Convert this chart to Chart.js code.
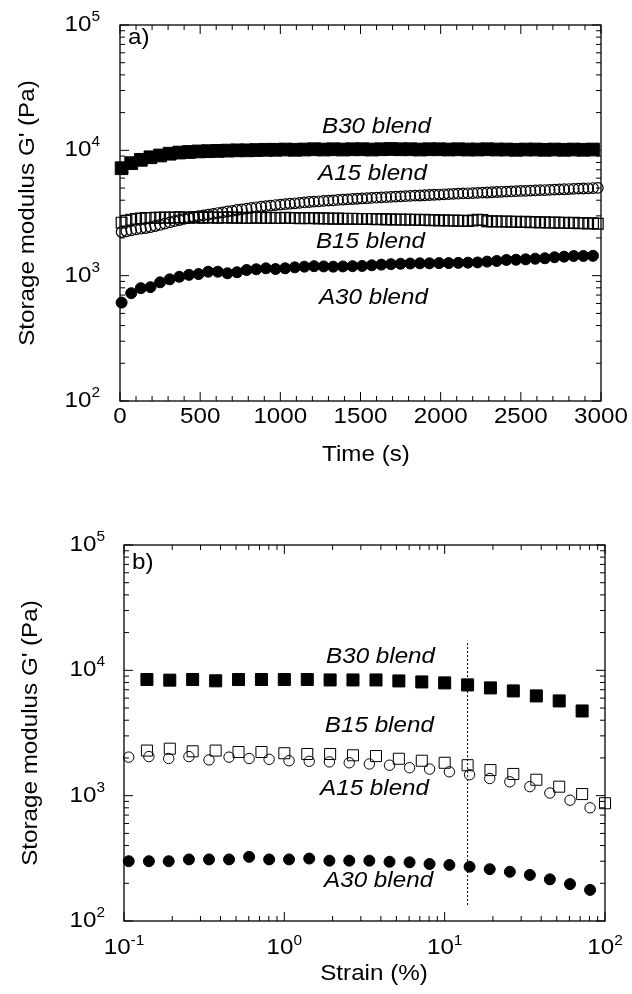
<!DOCTYPE html>
<html><head><meta charset="utf-8">
<script src="https://cdn.jsdelivr.net/npm/chart.js@4/dist/chart.umd.min.js"></script>
<style>
html,body{margin:0;padding:0;background:#fff;}
#wrap{position:relative;width:632px;height:994px;background:#fff;}
canvas{position:absolute;left:0;}
</style></head><body>
<div id="wrap">
<canvas id="ca" width="632" height="497" style="top:0px"></canvas>
<canvas id="cb" width="632" height="497" style="top:497px"></canvas>
</div>
<script>
// ---------------- Panel a) : G' vs time ----------------
const timeCoarse = [10,70,130,190,250,310,370,430,490,550,610,670,730,790,850,910,970,1030,1090,1150,1210,1270,1330,1390,1450,1510,1570,1630,1690,1750,1810,1870,1930,1990,2050,2110,2170,2230,2290,2350,2410,2470,2530,2590,2650,2710,2770,2830,2890,2950];
const timeFine = [10,40,70,100,130,160,190,220,250,280,310,340,370,400,430,460,490,520,550,580,610,640,670,700,730,760,790,820,850,880,910,940,970,1000,1030,1060,1090,1120,1150,1180,1210,1240,1270,1300,1330,1360,1390,1420,1450,1480,1510,1540,1570,1600,1630,1660,1690,1720,1750,1780,1810,1840,1870,1900,1930,1960,1990,2020,2050,2080,2110,2140,2170,2200,2230,2260,2290,2320,2350,2380,2410,2440,2470,2500,2530,2560,2590,2620,2650,2680,2710,2740,2770,2800,2830,2860,2890,2920,2950,2980];

const timeB30 = [7200,7900,8400,8800,9100,9400,9600,9700,9800,9850,9900,9950,10000,10000,10050,10100,10100,10150,10100,10150,10200,10150,10200,10150,10200,10200,10150,10200,10250,10200,10200,10150,10200,10200,10150,10200,10150,10150,10200,10150,10150,10100,10150,10150,10100,10150,10100,10150,10100,10150];
const timeA30 = [610,725,795,810,885,935,980,1015,1030,1075,1075,1045,1065,1110,1125,1145,1130,1145,1165,1180,1190,1185,1180,1185,1190,1195,1210,1225,1235,1245,1250,1255,1255,1260,1260,1265,1270,1275,1295,1310,1335,1340,1350,1365,1377,1403,1418,1436,1436,1440];
const timeA15 = [2230,2260,2300,2340,2370,2400,2440,2490,2540,2600,2660,2720,2780,2840,2890,2940,2990,3030,3070,3110,3160,3200,3250,3290,3340,3380,3430,3470,3510,3550,3590,3620,3660,3690,3720,3750,3780,3810,3840,3870,3900,3920,3950,3970,3990,4020,4040,4060,4090,4110,4130,4150,4170,4190,4210,4230,4250,4270,4290,4310,4330,4350,4360,4380,4400,4420,4440,4460,4470,4490,4510,4530,4540,4560,4580,4600,4610,4630,4650,4670,4680,4700,4720,4740,4750,4770,4790,4810,4820,4840,4860,4880,4890,4910,4930,4950,4960,4980,5000,5020];
const timeB15 = [2650,2740,2800,2840,2860,2880,2890,2900,2900,2910,2900,2910,2920,2910,2900,2920,2910,2900,2920,2910,2900,2910,2920,2900,2910,2900,2890,2900,2910,2900,2890,2900,2890,2880,2900,2890,2880,2870,2880,2870,2880,2860,2870,2860,2850,2860,2850,2840,2850,2840,2830,2840,2830,2820,2830,2810,2820,2800,2810,2800,2790,2800,2780,2790,2770,2780,2760,2770,2750,2760,2740,2750,2730,2760,2800,2780,2720,2710,2720,2700,2710,2690,2700,2680,2690,2670,2680,2660,2670,2650,2660,2640,2650,2630,2640,2620,2630,2610,2620,2600];

const timeTicks = [0,500,1000,1500,2000,2500,3000];
const timeTickLabels = ['0','500','1000','1500','2000','2500','3000'];

// ---------------- Panel b) : G' vs strain ----------------
const strainB30 = [0.139,0.193,0.268,0.373,0.518,0.72,1.0,1.39,1.93,2.68,3.73,5.18,7.2,10.0,13.9,19.3,26.8,37.3,51.8,72.0];
const strainB15 = [0.139,0.193,0.268,0.373,0.518,0.72,1.0,1.39,1.93,2.68,3.73,5.18,7.2,10.0,13.9,19.3,26.8,37.3,51.8,72.0,100];
const strainA = [0.107,0.143,0.19,0.254,0.339,0.452,0.603,0.804,1.07,1.43,1.91,2.54,3.39,4.53,6.04,8.05,10.7,14.3,19.1,25.5,34.0,45.3,60.5,80.7];

const strainValB30 = [8450,8350,8450,8250,8450,8450,8450,8450,8380,8380,8380,8230,8080,7940,7650,7240,6850,6250,5700,4740];
const strainValB15 = [2290,2370,2260,2290,2230,2230,2180,2150,2150,2100,2070,1970,1900,1830,1750,1600,1490,1340,1180,1030,870];
const strainValA15 = [2030,2050,1980,2050,1930,2030,1980,1950,1900,1880,1860,1830,1790,1750,1670,1630,1550,1470,1370,1290,1180,1050,920,800];
const strainValA30 = [300,300,300,310,310,310,325,310,310,315,303,303,303,297,294,285,280,271,259,247,233,215,197,177];

const critStrainX = [13.9, 13.9];
const critStrainY = [134, 17200];

const strainTicks = [0.1,1,10,100];
const strainTickExp = ['-1','0','1','2'];

// shared y axis
const modTicks = [100,1000,10000,100000];
const modTickExp = ['2','3','4','5'];

// ---------------- drawing helpers ----------------
const FONT = '"Liberation Sans", Arial, sans-serif';
const STRETCH = 1.1;

function str(ctx, s, x, y, size, o) {
  o = o || {};
  ctx.save();
  ctx.font = (o.italic ? 'italic ' : '') + size + 'px ' + FONT;
  ctx.fillStyle = '#000';
  ctx.textBaseline = 'alphabetic';
  ctx.textAlign = o.align || 'left';
  ctx.translate(x, y);
  if (o.rotate) ctx.rotate(o.rotate);
  ctx.scale(STRETCH, 1);
  ctx.fillText(s, 0, 0);
  ctx.restore();
}
function width(ctx, s, size) {
  ctx.save();
  ctx.font = size + 'px ' + FONT;
  const w = ctx.measureText(s).width * STRETCH;
  ctx.restore();
  return w;
}
const BASE = 22, EXPO = 14;
function powLabelRight(ctx, exp, xr, ytick) {
  const we = width(ctx, exp, EXPO), wb = width(ctx, '10', BASE);
  str(ctx, '10', xr - we - wb, ytick + 6, BASE);
  str(ctx, exp, xr - we, ytick - 4, EXPO);
}
function powLabelCenter(ctx, exp, xc, ybase, yexp) {
  const we = width(ctx, exp, EXPO), wb = width(ctx, '10', BASE);
  const x0 = xc - (we + wb) / 2;
  str(ctx, '10', x0, ybase, BASE);
  str(ctx, exp, x0 + wb, yexp, EXPO);
}
function logMarks(lo, hi) {
  const out = [];
  for (let d = lo; d < hi; d *= 10) {
    out.push([d, 9]);
    for (let m = 2; m <= 9; m++) out.push([d * m, 5]);
  }
  out.push([hi, 9]);
  return out;
}
function linMarks(lo, hi, minor, major) {
  const out = [];
  for (let v = lo; v <= hi + 1e-9; v += minor) out.push([v, (Math.round(v) % major === 0) ? 9 : 5]);
  return out;
}

function decoPlugin(cfg) {
  return {
    id: 'deco',
    beforeDatasetsDraw(chart) {
      const { ctx, chartArea: a } = chart;
      const x = chart.scales.x, y = chart.scales.y;
      ctx.save();
      ctx.strokeStyle = '#000';
      ctx.lineWidth = 1.3;
      ctx.strokeRect(a.left, a.top, a.right - a.left, a.bottom - a.top);
      ctx.lineWidth = 1;
      ctx.beginPath();
      for (const [v, len] of cfg.xMarks) {
        const px = x.getPixelForValue(v);
        ctx.moveTo(px, a.bottom); ctx.lineTo(px, a.bottom - len);
        ctx.moveTo(px, a.top); ctx.lineTo(px, a.top + len);
      }
      for (const [v, len] of cfg.yMarks) {
        const py = y.getPixelForValue(v);
        ctx.moveTo(a.left, py); ctx.lineTo(a.left + len, py);
        ctx.moveTo(a.right, py); ctx.lineTo(a.right - len, py);
      }
      ctx.stroke();
      ctx.restore();
    },
    afterDatasetsDraw(chart) {
      const { ctx, chartArea: a } = chart;
      const x = chart.scales.x, y = chart.scales.y;
      modTicks.forEach((v, i) => powLabelRight(ctx, modTickExp[i], a.left - cfg.yLabGap, y.getPixelForValue(v)));
      cfg.xLabels(ctx, x, a);
      const cy = (a.top + a.bottom) / 2;
      str(ctx, "Storage modulus G' (Pa)", cfg.yTitleX, cy, 22, { align: 'center', rotate: -Math.PI / 2 });
      str(ctx, cfg.xTitle, cfg.xTitleX, cfg.xTitleY, 22, { align: 'center' });
      str(ctx, cfg.panel, a.left + cfg.panelDx, a.top + cfg.panelDy, 22);
      for (const n of cfg.notes) {
        str(ctx, n.text, x.getPixelForValue(n.x), y.getPixelForValue(n.y), 22, { italic: true });
      }
    }
  };
}

function pts(xs, ys) { return ys.map((v, i) => ({ x: xs[i], y: v })); }
function series(data, style, radius, filled, bw) {
  return {
    data, pointStyle: style, pointRadius: radius, pointHoverRadius: radius,
    pointBorderWidth: bw || 1, pointBorderColor: '#000',
    pointBackgroundColor: filled ? '#000' : 'rgba(0,0,0,0)',
    showLine: false, clip: false
  };
}
const common = (pad, xScale) => ({
  responsive: false, animation: false, devicePixelRatio: 1, events: [],
  layout: { padding: pad },
  plugins: { legend: { display: false }, tooltip: { enabled: false } },
  scales: {
    x: xScale,
    y: { type: 'logarithmic', min: 100, max: 100000, display: false }
  }
});

// ---------- chart a ----------
new Chart(document.getElementById('ca'), {
  type: 'scatter',
  data: {
    datasets: [
      series(pts(timeCoarse, timeB30), 'rect', 9, true),
      series(pts(timeFine, timeA15), 'circle', 5.3, false, 1.2),
      series(pts(timeFine, timeB15), 'rect', 7.6, false, 1.2),
      series(pts(timeCoarse, timeA30), 'circle', 5.5, true)
    ]
  },
  options: common({ left: 120, top: 25, right: 31, bottom: 96 },
    { type: 'linear', min: 0, max: 3000, display: false }),
  plugins: [decoPlugin({
    xMarks: linMarks(0, 3000, 100, 500),
    yMarks: logMarks(100, 100000),
    yLabGap: 20,
    xLabels(ctx, x, a) {
      timeTicks.forEach((v, i) => str(ctx, timeTickLabels[i], x.getPixelForValue(v), a.bottom + 22, 22, { align: 'center' }));
    },
    yTitleX: 34, xTitle: 'Time (s)', xTitleX: 366, xTitleY: 461,
    panel: 'a)', panelDx: 8, panelDy: 19,
    notes: [
      { text: 'B30 blend', x: 1260, y: 13800 },
      { text: 'A15 blend', x: 1235, y: 5800 },
      { text: 'B15 blend', x: 1222, y: 1665 },
      { text: 'A30 blend', x: 1241, y: 594 }
    ]
  })]
});

// ---------- chart b ----------
const critLine = {
  data: pts(critStrainX, critStrainY), showLine: true, pointRadius: 0,
  borderColor: '#000', borderWidth: 1, borderDash: [2, 2], clip: false
};
new Chart(document.getElementById('cb'), {
  type: 'scatter',
  data: {
    datasets: [
      critLine,
      series(pts(strainB30, strainValB30), 'rect', 8.5, true),
      series(pts(strainB15, strainValB15), 'rect', 7.8, false),
      series(pts(strainA, strainValA15), 'circle', 5.2, false),
      series(pts(strainA, strainValA30), 'circle', 5.5, true)
    ]
  },
  options: common({ left: 124, top: 48, right: 27, bottom: 73 },
    { type: 'logarithmic', min: 0.1, max: 100, display: false }),
  plugins: [decoPlugin({
    xMarks: logMarks(0.1, 100),
    yMarks: logMarks(100, 100000),
    yLabGap: 19,
    xLabels(ctx, x, a) {
      strainTicks.forEach((v, i) => powLabelCenter(ctx, strainTickExp[i], x.getPixelForValue(v), a.bottom + 33, a.bottom + 24));
    },
    yTitleX: 37, xTitle: 'Strain (%)', xTitleX: 374, xTitleY: 483,
    panel: 'b)', panelDx: 8, panelDy: 24,
    notes: [
      { text: 'B30 blend', x: 1.82, y: 11460 },
      { text: 'B15 blend', x: 1.79, y: 3220 },
      { text: 'A15 blend', x: 1.67, y: 1013 },
      { text: 'A30 blend', x: 1.77, y: 187 }
    ]
  })]
});
</script>
</body></html>
